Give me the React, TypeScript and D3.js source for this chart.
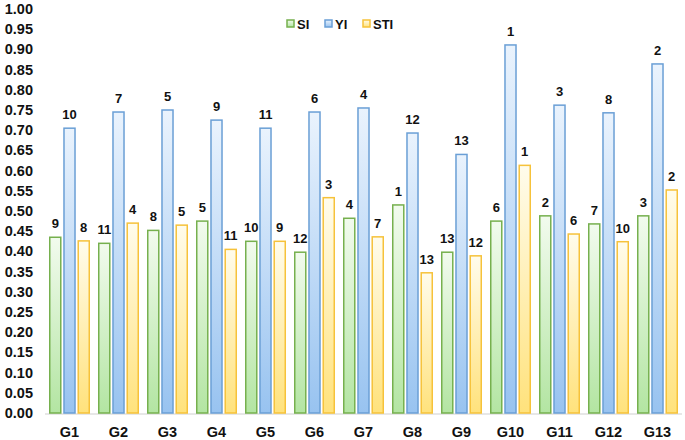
import React from "react";
import * as d3 from "d3";

const groups = ["G1", "G2", "G3", "G4", "G5", "G6", "G7", "G8", "G9", "G10", "G11", "G12", "G13"];
const seriesNames = ["SI", "YI", "STI"];

const siValues = [0.435, 0.42, 0.452, 0.475, 0.425, 0.398, 0.482, 0.515, 0.398, 0.475, 0.488, 0.468, 0.488];
const yiValues = [0.705, 0.745, 0.75, 0.725, 0.705, 0.745, 0.755, 0.693, 0.64, 0.911, 0.762, 0.743, 0.864];
const stiValues = [0.426, 0.47, 0.465, 0.405, 0.425, 0.533, 0.436, 0.347, 0.389, 0.613, 0.443, 0.424, 0.552];

const siRanks = [9, 11, 8, 5, 10, 12, 4, 1, 13, 6, 2, 7, 3];
const yiRanks = [10, 7, 5, 9, 11, 6, 4, 12, 13, 1, 3, 8, 2];
const stiRanks = [8, 4, 5, 11, 9, 3, 7, 13, 12, 1, 6, 10, 2];

const yTicks = d3.range(0, 1.0001, 0.05);

// border, gradient top, gradient bottom
const palette = {
    SI: ["#76b04e", "#f2fbee", "#b3e5a2"],
    YI: ["#6a9fd6", "#eaf3fd", "#98c3f0"],
    STI: ["#f6c23a", "#fffcec", "#ffe27c"],
};

const font = "'Liberation Sans', Arial, sans-serif";

const App = () => {
    const width = 685, height = 440;
    const x = d3.scaleBand().domain(groups).range([45, 682]);
    const inner = d3.scaleBand().domain(seriesNames).range([4, 45]).paddingInner(0.12);
    const y = d3.scaleLinear().domain([0, 1]).range([413, 9]);

    const series = [
        {name: "SI", values: siValues, ranks: siRanks},
        {name: "YI", values: yiValues, ranks: yiRanks},
        {name: "STI", values: stiValues, ranks: stiRanks},
    ];

    const legendX = {SI: 287, YI: 325, STI: 363};

    return <svg width={width} height={height}
                style={{position: "absolute", left: 0, top: 0, display: "block", background: "#fff"}}>
        <defs>
            {seriesNames.map(n => (
                <linearGradient key={n} id={"grad-" + n} x1="0" y1="0" x2="0" y2="1">
                    <stop offset="0%" stopColor={palette[n][1]}/>
                    <stop offset="100%" stopColor={palette[n][2]}/>
                </linearGradient>
            ))}
        </defs>

        {yTicks.map(t => (
            <text key={t} x={33} y={y(t)} dy="0.35em" textAnchor="end"
                  fontFamily={font} fontWeight="bold" fontSize={14.5} fill="#111">
                {d3.format(".2f")(t)}
            </text>
        ))}

        <line x1={45} x2={682} y1={y(0) + 1} y2={y(0) + 1} stroke="#d0d0d0" strokeWidth={1.2}/>

        {groups.map((g, i) => (
            <g key={g} transform={`translate(${x(g)},0)`}>
                {series.map(s => {
                    const v = s.values[i];
                    const bx = inner(s.name);
                    const bw = inner.bandwidth();
                    return <g key={s.name}>
                        <rect x={bx + 0.75} y={y(v)} width={bw - 1.5} height={y(0) - y(v)}
                              fill={`url(#grad-${s.name})`} stroke={palette[s.name][0]} strokeWidth={1.5}/>
                        <text x={bx + bw / 2} y={y(v) - 9} textAnchor="middle"
                              fontFamily={font} fontWeight="bold" fontSize={13} fill="#111">
                            {s.ranks[i]}
                        </text>
                    </g>
                })}
                <text x={x.bandwidth() / 2} y={432} dy="0.35em" textAnchor="middle"
                      fontFamily={font} fontWeight="bold" fontSize={14.5} fill="#111">
                    {g}
                </text>
            </g>
        ))}

        {seriesNames.map(n => (
            <g key={n} transform={`translate(${legendX[n]},24)`}>
                <rect x={0} y={-4} width={7} height={7} fill={`url(#grad-${n})`}
                      stroke={palette[n][0]} strokeWidth={1.5}/>
                <text x={10} y={0} dy="0.35em" fontFamily={font} fontWeight="bold" fontSize={13} fill="#111">
                    {n}
                </text>
            </g>
        ))}
    </svg>
}

export default App
